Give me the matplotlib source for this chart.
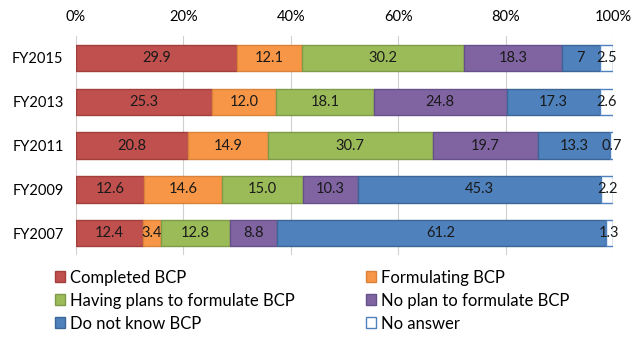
import matplotlib
matplotlib.use("Agg")
import matplotlib.pyplot as plt
from matplotlib.patches import Patch
from matplotlib.ticker import PercentFormatter

years = ["FY2015", "FY2013", "FY2011", "FY2009", "FY2007"]
categories = ["Completed BCP", "Formulating BCP", "Having plans to formulate BCP",
              "No plan to formulate BCP", "Do not know BCP", "No answer"]
completed = [29.9, 25.3, 20.8, 12.6, 12.4]
formulating = [12.1, 12.0, 14.9, 14.6, 3.4]
having_plans = [30.2, 18.1, 30.7, 15.0, 12.8]
no_plan = [18.3, 24.8, 19.7, 10.3, 8.8]
do_not_know = [7, 17.3, 13.3, 45.3, 61.2]
no_answer = [2.5, 2.6, 0.7, 2.2, 1.3]
label_text = [
    ["29.9", "25.3", "20.8", "12.6", "12.4"],
    ["12.1", "12.0", "14.9", "14.6", "3.4"],
    ["30.2", "18.1", "30.7", "15.0", "12.8"],
    ["18.3", "24.8", "19.7", "10.3", "8.8"],
    ["7", "17.3", "13.3", "45.3", "61.2"],
    ["2.5", "2.6", "0.7", "2.2", "1.3"],
]

series = [completed, formulating, having_plans, no_plan, do_not_know, no_answer]
faces = ["#C0504D", "#F79646", "#9BBB59", "#8064A2", "#4F81BD", "#FFFFFF"]
edges = ["#A03F3C", "#D9823B", "#7F9A48", "#66508A", "#3C6696", "#4F81BD"]

plt.rcParams["font.family"] = ["Lato", "DejaVu Sans"]

fig = plt.figure(figsize=(6.36, 3.37), dpi=100)
ax = fig.add_axes([0.1195, 0.243, 0.8445, 0.65])

ypos = list(range(len(years)))
left = [0.0] * len(years)
for vals, fc, ec, labs in zip(series, faces, edges, label_text):
    bars = ax.barh(ypos, vals, left=left, height=0.6, color=fc,
                   edgecolor=ec, linewidth=1.0, zorder=3)
    for b, t in zip(bars, labs):
        ax.text(b.get_x() + b.get_width() / 2, b.get_y() + b.get_height() / 2,
                t, ha="center", va="center", fontsize=10.5, color="#1a1a1a",
                zorder=4)
    left = [l + v for l, v in zip(left, vals)]

ax.set_xlim(0, 100)
ax.set_ylim(len(years) - 0.5, -0.5)
ax.set_yticks(ypos)
ax.set_yticklabels(years, fontsize=10.5)
ax.set_xticks([0, 20, 40, 60, 80, 100])
ax.xaxis.set_major_formatter(PercentFormatter(decimals=0))
ax.tick_params(axis="x", bottom=False, top=False, length=0, labelbottom=False,
               labeltop=True, labelsize=10.5, pad=9)
ax.tick_params(axis="y", length=0, pad=9)
for s in ax.spines.values():
    s.set_visible(False)
ax.grid(axis="x", color="#D0D0D0", linewidth=0.8, zorder=0)

handles = [Patch(facecolor=fc, edgecolor=ec, linewidth=1.0)
           for fc, ec in zip(faces, edges)]
legend_kw = dict(loc="upper left", frameon=False, fontsize=12,
                 handlelength=0.6, handleheight=0.6, handletextpad=0.3,
                 labelspacing=0.42, borderpad=0, borderaxespad=0)
fig.legend(handles[0::2], categories[0::2],
           bbox_to_anchor=(0.086, 0.2), **legend_kw)
fig.legend(handles[1::2], categories[1::2],
           bbox_to_anchor=(0.575, 0.2), **legend_kw)

fig.savefig("out.png", dpi=100)
